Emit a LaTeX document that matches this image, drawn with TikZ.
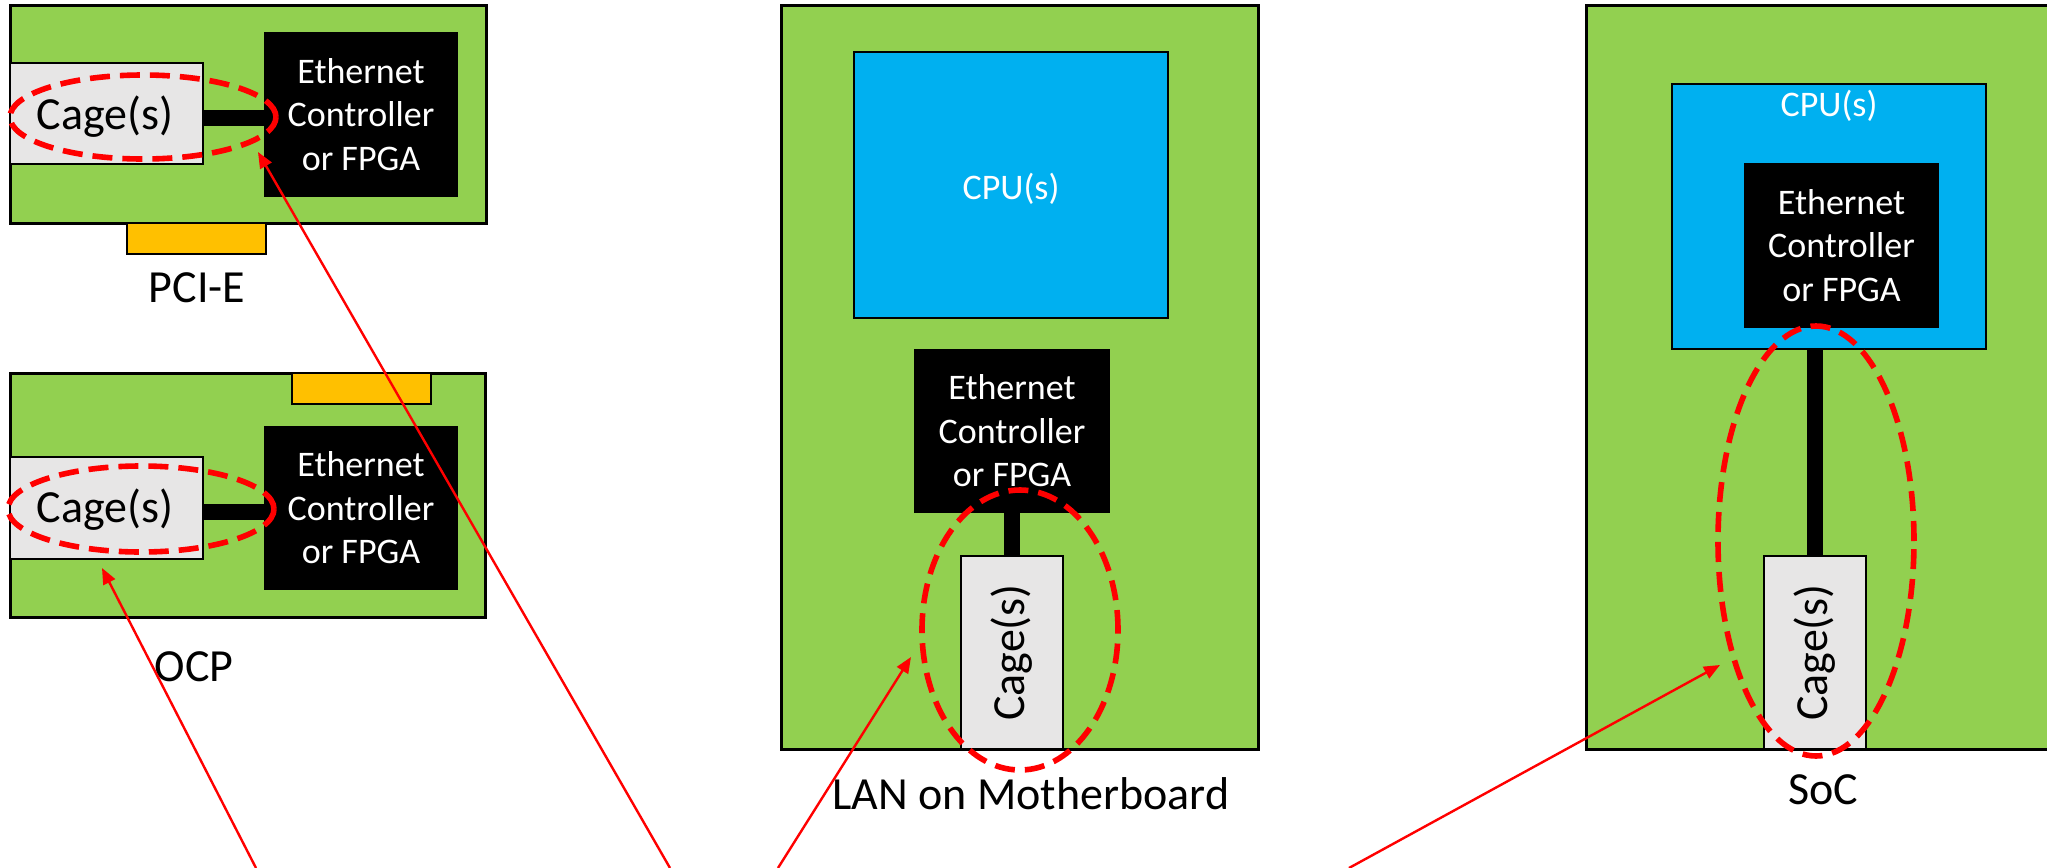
\documentclass[tikz,border=0pt]{standalone}
\usepackage{fontspec}
\setmainfont{Carlito}
\usetikzlibrary{arrows.meta,shapes.geometric,fit}
\definecolor{boardgreen}{HTML}{92D050}
\definecolor{cpublue}{HTML}{00B0F0}
\definecolor{slotorange}{HTML}{FFC000}
\definecolor{cagegrey}{HTML}{E7E6E6}
\definecolor{markred}{HTML}{FF0000}
\begin{document}
\begin{tikzpicture}[x=0.5pt,y=-0.5pt,
  pcb/.style={draw=black, line width=1.5pt, fill=boardgreen, inner sep=0pt},
  cagebox/.style={draw=black, line width=1pt, fill=cagegrey, inner sep=0pt},
  ctrl/.style={fill=black, inner sep=0pt},
  cpubox/.style={draw=black, line width=1pt, fill=cpublue, inner sep=0pt},
  slot/.style={draw=black, line width=1pt, fill=slotorange, inner sep=0pt},
  whitetext/.style={text=white, inner sep=0pt, align=center, font=\fontsize{18}{21.8}\selectfont},
  cagetext/.style={inner sep=0pt, font=\fontsize{23}{27}\selectfont},
  vcage/.style={cagetext, rotate=90},
  link/.style={line width=8pt, black},
  focus/.style={ellipse, draw=markred, line width=2.8pt, dash pattern=on 10pt off 5pt, inner sep=0pt},
  pointer/.style={draw=markred, line width=1.2pt, -{Triangle[length=8pt,width=6.5pt]}},
  caption/.style={font=\fontsize{23}{27}\selectfont, inner sep=0pt},
]
\clip (0,0) rectangle (2047,868);

% ---------- PCI-E add-in card ----------
\node[pcb, fit={(10,5)(486,223)}] (boardA) {};
\node[slot, fit={(127,223)(266,254)}] (slotA) {};
\node[cagebox, fit={(10,63)(203,164)}] (cageA) {};
\node[cagetext] (cageAtext) at (105,117) {Cage(s)};
\node[ctrl, fit={(264,32)(458,197)}] (ethA) {};
\node[whitetext] (ethAtext) at (ethA.center) {Ethernet\\Controller\\or FPGA};
\coordinate (barA) at ([yshift=-2pt]cageA.east);
\draw[link] (barA) -- (barA -| ethA.west);
\node[focus, minimum width=133pt, minimum height=42pt] (ellA) at (143,117) {};
\node[caption, anchor=base] (capA) at (197,302) {PCI-E};

% ---------- OCP mezzanine card ----------
\node[pcb, fit={(10,373)(485,617)}] (boardB) {};
\node[slot, fit={(292,373)(431,404)}] (slotB) {};
\node[cagebox, fit={(10,457)(203,559)}] (cageB) {};
\node[cagetext] (cageBtext) at (105,510) {Cage(s)};
\node[ctrl, fit={(264,426)(458,590)}] (ethB) {};
\node[whitetext] (ethBtext) at (ethB.center) {Ethernet\\Controller\\or FPGA};
\coordinate (barB) at ([yshift=-2pt]cageB.east);
\draw[link] (barB) -- (barB -| ethB.west);
\node[focus, minimum width=133pt, minimum height=43pt] (ellB) at (141,509) {};
\node[caption, anchor=base] (capB) at (194,681) {OCP};

% ---------- LAN on motherboard ----------
\node[pcb, fit={(781,5)(1258,749)}] (boardC) {};
\node[cpubox, fit={(854,52)(1168,318)}] (cpuC) {};
\node[whitetext] (cpuCtext) at ([yshift=-2pt]cpuC.center) {CPU(s)};
\node[ctrl, fit={(914,349)(1110,513)}] (ethC) {};
\node[whitetext] (ethCtext) at (ethC.center) {Ethernet\\Controller\\or FPGA};
\node[cagebox, fit={(961,556)(1063,749)}] (cageC) {};
\node[vcage] (cageCtext) at (cageC.center) {Cage(s)};
\draw[link] (ethC.south) -- (cageC.north);
\node[focus, minimum width=98pt, minimum height=140pt] (ellC) at (1020,630) {};
\node[caption, anchor=base] (capC) at (1031,809) {LAN on Motherboard};

% ---------- SoC board ----------
\node[pcb, fit={(1586,5)(2070,749)}] (boardD) {};
\node[cpubox, fit={(1672,84)(1986,349)}] (cpuD) {};
\node[whitetext] (cpuDtext) at (1829,106) {CPU(s)};
\node[ctrl, fit={(1744,163)(1939,328)}] (ethD) {};
\node[whitetext] (ethDtext) at (ethD.center) {Ethernet\\Controller\\or FPGA};
\node[cagebox, fit={(1764,556)(1866,749)}] (cageD) {};
\node[vcage] (cageDtext) at (cageD.center) {Cage(s)};
\draw[link] (cageD.north) -- (cageD.north |- cpuD.south);
\node[focus, minimum width=98pt, minimum height=215pt] (ellD) at (1816,541) {};
\node[caption, anchor=base] (capD) at (1823,804) {SoC};

% ---------- pointers from below ----------
\coordinate (srcA) at (670,868);
\coordinate (tipA) at (258,152);
\coordinate (srcB) at (256,868);
\coordinate (tipB) at (102,568);
\coordinate (srcC) at (778,868);
\coordinate (tipC) at (911,657);
\coordinate (srcD) at (1349,868);
\coordinate (tipD) at (1720,665);
\draw[pointer] (srcA) -- (tipA);
\draw[pointer] (srcB) -- (tipB);
\draw[pointer] (srcC) -- (tipC);
\draw[pointer] (srcD) -- (tipD);
\end{tikzpicture}
\end{document}
